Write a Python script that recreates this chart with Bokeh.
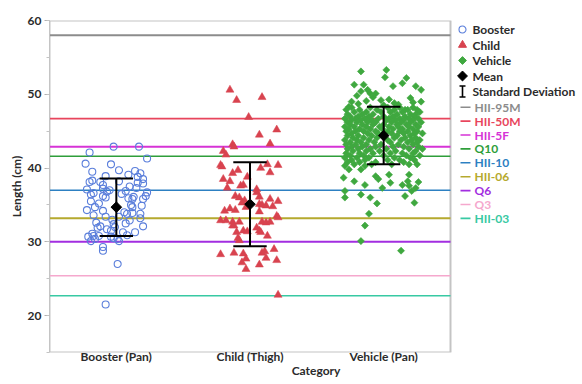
import math
from bokeh.plotting import figure
from bokeh.models import Range1d, SingleIntervalTicker, FixedTicker, ColumnDataSource
from bokeh.embed import file_html
from bokeh.resources import INLINE
from bokeh.core.properties import value

# ---------------- data ----------------
categories = ["Booster (Pan)", "Child (Thigh)", "Vehicle (Pan)"]

booster_length = [42.9, 42.9, 42.1, 41.3, 40.6, 40.5, 39.5, 39.7, 38.9, 39.1, 39.6, 39.3, 38.8, 38.5,
                  38.1, 38.3, 38.1, 37.7, 38.2, 38.0, 37.9, 37.1, 37.2, 36.8, 36.9, 36.4, 36.6, 36.2,
                  36.0, 36.7, 36.2, 35.9, 35.8, 36.1, 35.8, 35.5, 35.0, 34.7, 34.7, 34.3, 34.2, 33.6,
                  33.4, 33.8, 33.9, 33.8, 33.4, 33.2, 32.1, 32.4, 32.0, 32.5, 32.1, 31.9, 31.7, 31.5,
                  31.3, 31.1, 30.8, 30.8, 31.3, 30.9, 30.7, 30.1, 30.4, 30.7, 30.5, 30.4, 30.1, 29.3,
                  28.8, 27.0, 21.5,
                  37.5, 37.0, 36.5, 37.3, 35.2, 34.0, 34.9, 33.0, 32.9, 32.6]
booster_jitter = [-0.02, 0.17, -0.20, 0.23, -0.23, -0.04, -0.18, 0.02, -0.08, 0.09, 0.14, 0.18, 0.16, 0.20,
                  -0.20, -0.18, -0.12, -0.10, 0.02, 0.16, 0.20, -0.22, -0.10, -0.07, 0.07, -0.19, -0.17, -0.10,
                  -0.08, 0.23, 0.22, 0.09, 0.12, 0.13, 0.20, -0.19, 0.11, 0.12, -0.16, -0.22, -0.10, -0.17,
                  -0.08, 0.08, 0.12, 0.18, 0.02, 0.18, -0.12, -0.02, -0.01, 0.07, 0.20, -0.14, -0.07, -0.04,
                  0.14, -0.18, -0.17, -0.13, 0.05, 0.08, -0.21, -0.19, -0.16, -0.04, -0.02, 0.01, 0.02, -0.10,
                  -0.10, 0.01, -0.08,
                  0.10, -0.05, 0.04, 0.15, -0.13, 0.06, 0.19, -0.03, 0.10, -0.15]

child_length = [50.6, 49.2, 49.6, 46.9, 45.2, 44.5, 43.2, 42.9, 43.3, 42.3, 41.8, 40.4, 40.2, 40.0,
                40.5, 40.4, 39.7, 39.3, 39.4, 38.8, 38.5, 38.2, 37.6, 37.7, 37.3, 37.1, 36.7, 36.2,
                36.0, 36.1, 35.6, 35.3, 35.8, 35.5, 35.1, 35.0, 34.9, 34.8, 34.5, 34.2, 34.3, 34.7,
                34.1, 33.5, 33.3, 32.9, 32.9, 32.7, 32.7, 32.7, 32.6, 32.7, 32.2, 32.2, 31.9, 31.5,
                31.3, 31.5, 31.4, 31.3, 30.8, 30.5, 30.2, 28.3, 28.5, 28.4, 27.7, 28.5, 28.7, 29.0,
                27.8, 27.2, 27.5, 26.9, 26.3, 22.8]
child_jitter = [-0.15, -0.10, 0.09, -0.01, 0.20, 0.07, -0.13, -0.12, 0.15, -0.20, -0.18, -0.22, -0.21, 0.08,
                0.13, 0.21, -0.09, -0.13, 0.15, -0.02, -0.20, -0.15, -0.07, -0.05, -0.17, 0.05, 0.05, -0.11,
                -0.08, 0.07, -0.04, -0.06, 0.15, 0.21, 0.07, 0.09, 0.12, 0.17, -0.15, -0.19, -0.11, -0.03,
                0.07, 0.20, 0.21, -0.22, -0.18, -0.13, -0.08, 0.09, 0.12, 0.15, -0.13, -0.12, 0.05, 0.07,
                -0.10, -0.05, -0.02, 0.08, 0.13, -0.09, -0.08, -0.22, -0.12, -0.05, -0.03, 0.09, 0.11, 0.18,
                0.12, -0.06, 0.20, 0.07, -0.03, 0.21]

vehicle_length = [
    53.1, 53.3, 52.3, 52.2, 51.3, 51.3, 50.6, 51.1, 51.5, 50.1, 50.1, 51.1, 50.6, 50.4, 49.5, 49.0,
    48.3, 49.2, 49.0, 48.6, 47.9, 47.9,
    49.8, 49.6, 49.3, 49.1, 48.8, 48.7, 48.5, 48.9,
    48.2, 48.2, 48.2, 48.2, 48.2,
    47.9, 47.9, 47.9, 47.9, 47.9,
    47.6, 47.6, 47.6, 47.6, 47.6, 47.6,
    47.3, 47.3, 47.3, 47.3, 47.3, 47.3,
    47.0, 47.0, 47.0, 47.0, 47.0, 47.0, 47.0,
    46.7, 46.7, 46.7, 46.7, 46.7, 46.7, 46.7, 46.7,
    46.5, 46.5, 46.5, 46.5, 46.5, 46.5, 46.5,
    46.2, 46.2, 46.2, 46.2, 46.2, 46.2, 46.2, 46.2,
    45.9, 45.9, 45.9, 45.9, 45.9, 45.9, 45.9,
    45.6, 45.6, 45.6, 45.6, 45.6, 45.6, 45.6, 45.6,
    45.3, 45.3, 45.3, 45.3, 45.3, 45.3, 45.3,
    45.0, 45.0, 45.0, 45.0, 45.0, 45.0, 45.0, 45.0,
    44.7, 44.7, 44.7, 44.7, 44.7, 44.7, 44.7,
    44.4, 44.4, 44.4, 44.4, 44.4, 44.4,
    44.1, 44.1, 44.1, 44.1, 44.1, 44.1,
    43.8, 43.8, 43.8, 43.8, 43.8, 43.8, 43.8,
    43.5, 43.5, 43.5, 43.5, 43.5, 43.5,
    43.2, 43.2, 43.2, 43.2, 43.2, 43.2,
    42.9, 42.9, 42.9, 42.9, 42.9, 42.9,
    42.6, 42.6, 42.6, 42.6, 42.6, 42.6,
    42.3, 42.3, 42.3, 42.3, 42.3,
    42.0, 42.0, 42.0, 42.0, 42.0, 42.0,
    41.7, 41.7, 41.7, 41.7, 41.7,
    41.4, 41.4, 41.4, 41.4, 41.4,
    41.1, 41.1, 41.1, 41.1, 41.1,
    40.8, 40.8, 40.8, 40.8,
    40.5, 40.5, 40.5, 40.5,
    40.3, 39.8, 39.8, 40.3, 40.5, 38.7, 38.9, 38.5, 39.1, 38.0, 39.1, 38.2, 38.2, 37.7, 37.3, 37.7,
    37.6, 38.1, 37.3, 36.9, 36.0, 36.4, 36.0, 36.2, 36.9, 35.2, 35.3, 33.8, 32.2, 30.1, 28.8,
]
vehicle_jitter = [
    -0.17, 0.02, 0.01, 0.17, -0.22, -0.15, -0.12, 0.07, 0.14, -0.06, -0.10, 0.24, 0.28, -0.17, 0.20, -0.24,
    -0.26, -0.02, 0.28, 0.11, 0.16, 0.25,
    -0.20, -0.08, 0.04, -0.13, 0.08, -0.19, 0.00, 0.22,
    -0.24, -0.10, 0.03, 0.12, 0.22,
    -0.28, -0.18, -0.05, 0.08, 0.18,
    -0.22, -0.13, -0.02, 0.05, 0.14, 0.27,
    -0.27, -0.16, -0.08, 0.10, 0.20, 0.24,
    -0.25, -0.19, -0.11, 0.00, 0.07, 0.16, 0.23,
    -0.29, -0.21, -0.14, -0.04, 0.04, 0.12, 0.19, 0.26,
    -0.24, -0.17, -0.09, 0.02, 0.09, 0.15, 0.22,
    -0.27, -0.20, -0.12, -0.06, 0.06, 0.13, 0.20, 0.28,
    -0.25, -0.16, -0.08, 0.00, 0.10, 0.17, 0.24,
    -0.29, -0.22, -0.13, -0.03, 0.04, 0.11, 0.19, 0.26,
    -0.26, -0.18, -0.10, -0.01, 0.07, 0.14, 0.22,
    -0.28, -0.21, -0.15, -0.06, 0.03, 0.12, 0.18, 0.25,
    -0.24, -0.12, -0.04, 0.06, 0.15, 0.23, 0.29,
    -0.27, -0.19, -0.09, 0.01, 0.10, 0.20,
    -0.23, -0.15, -0.05, 0.08, 0.16, 0.24,
    -0.29, -0.20, -0.11, 0.03, 0.13, 0.21, 0.27,
    -0.25, -0.17, -0.07, 0.05, 0.18, 0.25,
    -0.28, -0.21, -0.13, -0.02, 0.11, 0.22,
    -0.24, -0.16, -0.06, 0.07, 0.15, 0.26,
    -0.27, -0.19, -0.10, 0.02, 0.19, 0.29,
    -0.23, -0.13, -0.03, 0.09, 0.24,
    -0.28, -0.18, -0.08, 0.05, 0.14, 0.22,
    -0.25, -0.15, 0.00, 0.17, 0.27,
    -0.29, -0.20, -0.11, 0.08, 0.20,
    -0.24, -0.14, 0.03, 0.12, 0.23,
    -0.27, -0.18, -0.06, 0.15,
    -0.22, -0.09, 0.06, 0.19,
    -0.29, -0.26, -0.17, -0.14, 0.25, -0.30, -0.06, -0.04, 0.04, 0.05, 0.19, 0.18, -0.22, -0.14, -0.01, 0.14,
    0.19, 0.26, 0.24, -0.29, -0.29, -0.17, -0.10, 0.16, 0.21, -0.05, 0.23, -0.11, -0.14, -0.17, 0.13,
]

mean_length = [34.7, 35.1, 44.4]
sd_low = [30.8, 29.4, 40.5]
sd_high = [38.6, 40.8, 48.3]

ref_names = ["HII-95M", "HII-50M", "HII-5F", "Q10", "HII-10", "HII-06", "Q6", "Q3", "HII-03"]
ref_values = [58.0, 46.7, 42.9, 41.6, 37.0, 33.2, 30.0, 25.4, 22.7]

legend_series = ["Booster", "Child", "Vehicle", "Mean", "Standard Deviation"]

Y_MIN, Y_MAX = 15, 60

# ---------------- styles ----------------
ref_colors = ["#8c8c8c", "#e8455c", "#d633d6", "#2e9e3a", "#2d80c2",
              "#b5a92e", "#a22ee0", "#f5a8cd", "#38c9a3"]
ref_widths = [2, 1.6, 2, 1.6, 1.6, 2, 2, 1.6, 1.6]
booster_color = "#5a7edb"
child_color = "#d8434f"
vehicle_color = "#3fa83f"
FONT = "Lato"
TXT = "#2b2b2b"
FRAME = "#c4c4c4"

W, H = 582, 384
FL, FT, FB = 49, 20, 32
FRAME_TOP, FRAME_BOTTOM = FT, H - FB
n_cat = len(categories)
cat_px = 401 / n_cat                      # pixel width of one category slot
x_end = (W - FL) / cat_px                 # frame continues to the right for the legend column
cat_x = {c: i + 0.5 for i, c in enumerate(categories)}

p = figure(x_range=Range1d(0, x_end), y_range=Range1d(Y_MIN, Y_MAX), width=W, height=H,
           output_backend="svg", toolbar_location=None,
           min_border_left=FL, min_border_right=0, min_border_top=FT, min_border_bottom=FB)
p.xgrid.visible = False
p.ygrid.visible = False
p.outline_line_color = None
p.background_fill_color = "white"
p.border_fill_color = "white"

# plot box (only over the category area)
p.quad(left=[0], right=[n_cat], bottom=[Y_MIN], top=[Y_MAX], fill_color=None,
       line_color=FRAME, line_width=2)

# reference lines
p.segment(x0=[0] * len(ref_values), x1=[n_cat] * len(ref_values), y0=ref_values, y1=ref_values,
          line_color=ref_colors, line_width=ref_widths)

# points
bsrc = ColumnDataSource(dict(x=[cat_x[categories[0]] + j for j in booster_jitter], y=booster_length))
csrc = ColumnDataSource(dict(x=[cat_x[categories[1]] + j for j in child_jitter], y=child_length))
vsrc = ColumnDataSource(dict(x=[cat_x[categories[2]] + j for j in vehicle_jitter], y=vehicle_length))
p.scatter("x", "y", source=bsrc, marker="circle", size=7, fill_color=None,
          line_color=booster_color, line_width=1.1)
p.scatter("x", "y", source=csrc, marker="triangle", size=8, fill_color=child_color,
          line_color=child_color, line_width=0.5)
p.scatter("x", "y", source=vsrc, marker="square", angle=math.pi / 4, size=5,
          fill_color=vehicle_color, line_color=vehicle_color, line_width=0.6)

# mean + standard deviation
cap = 0.125
cx = [cat_x[c] for c in categories]
p.segment(x0=cx, y0=sd_low, x1=cx, y1=sd_high, line_color="black", line_width=2)
p.segment(x0=[x - cap for x in cx], y0=sd_high, x1=[x + cap for x in cx], y1=sd_high,
          line_color="black", line_width=2)
p.segment(x0=[x - cap for x in cx], y0=sd_low, x1=[x + cap for x in cx], y1=sd_low,
          line_color="black", line_width=2)
p.scatter(x=cx, y=mean_length, marker="square", angle=math.pi / 4, size=7.5, color="black")

# axes
p.yaxis.ticker = SingleIntervalTicker(interval=10, num_minor_ticks=2)
p.xaxis.ticker = FixedTicker(ticks=cx)
p.xaxis.major_label_overrides = {x: c for x, c in zip(cx, categories)}
p.yaxis.axis_label = "Length (cm)"
p.xaxis.axis_label = "Category"
for ax in (p.xaxis, p.yaxis):
    ax.axis_line_color = FRAME
    ax.major_tick_line_color = "#b0b0b0"
    ax.minor_tick_line_color = FRAME
    ax.major_tick_in = 0
    ax.minor_tick_in = 0
    ax.major_label_text_font = FONT
    ax.major_label_text_font_size = "12px"
    ax.major_label_text_font_style = "bold"
    ax.major_label_text_color = TXT
    ax.axis_label_text_font = FONT
    ax.axis_label_text_font_size = "12px"
    ax.axis_label_text_font_style = "bold"
    ax.axis_label_text_color = TXT
p.yaxis.major_tick_out = 5
p.yaxis.minor_tick_out = 3
p.yaxis.major_label_standoff = 3
p.yaxis.axis_label_standoff = 1
p.xaxis.axis_line_color = None
p.xaxis.major_tick_line_color = None
p.xaxis.minor_tick_line_color = None
p.xaxis.major_tick_out = 0
p.xaxis.minor_tick_out = 0
p.xaxis.major_label_standoff = -4
p.xaxis.axis_label_standoff = -4

# ---------------- legend column (inside the frame, right of the plot box) ----------------
def lx(page_x):
    return (page_x - FL) / cat_px

def ly(page_y):
    return Y_MAX - (page_y - FRAME_TOP) * (Y_MAX - Y_MIN) / (FRAME_BOTTOM - FRAME_TOP)

top_y = [ly(v) for v in (29, 44.5, 60, 75.5, 91)]
mkx = lx(462)
p.scatter(x=[mkx], y=[top_y[0]], marker="circle", size=7, fill_color=None,
          line_color=booster_color, line_width=1.1)
p.scatter(x=[mkx], y=[top_y[1]], marker="triangle", size=8, color=child_color)
p.scatter(x=[mkx], y=[top_y[2]], marker="square", angle=math.pi / 4, size=5.5, color=vehicle_color)
p.scatter(x=[mkx], y=[top_y[3]], marker="square", angle=math.pi / 4, size=7, color="black")
d = 5.5 * (Y_MAX - Y_MIN) / (FRAME_BOTTOM - FRAME_TOP)
p.segment(x0=[mkx, lx(459), lx(459)], y0=[top_y[4] - d, top_y[4] - d, top_y[4] + d],
          x1=[mkx, lx(465), lx(465)], y1=[top_y[4] + d, top_y[4] - d, top_y[4] + d],
          line_color="black", line_width=1.6)
p.text(x=[lx(472)] * len(legend_series), y=top_y, text=legend_series, text_color=TXT,
       text_font=value(FONT), text_font_size="12px", text_font_style="bold",
       text_baseline="middle")

line_y = [ly(106.7 + 13.9 * i) for i in range(len(ref_names))]
p.segment(x0=[lx(460)] * len(ref_names), y0=line_y, x1=[lx(470)] * len(ref_names), y1=line_y,
          line_color=ref_colors, line_width=1.6)
p.text(x=[lx(474)] * len(ref_names), y=line_y, text=ref_names, text_color=ref_colors,
       text_font=value(FONT), text_font_size="12px", text_font_style="bold",
       text_baseline="middle")

open("out.html", "w").write(file_html(p, INLINE))
